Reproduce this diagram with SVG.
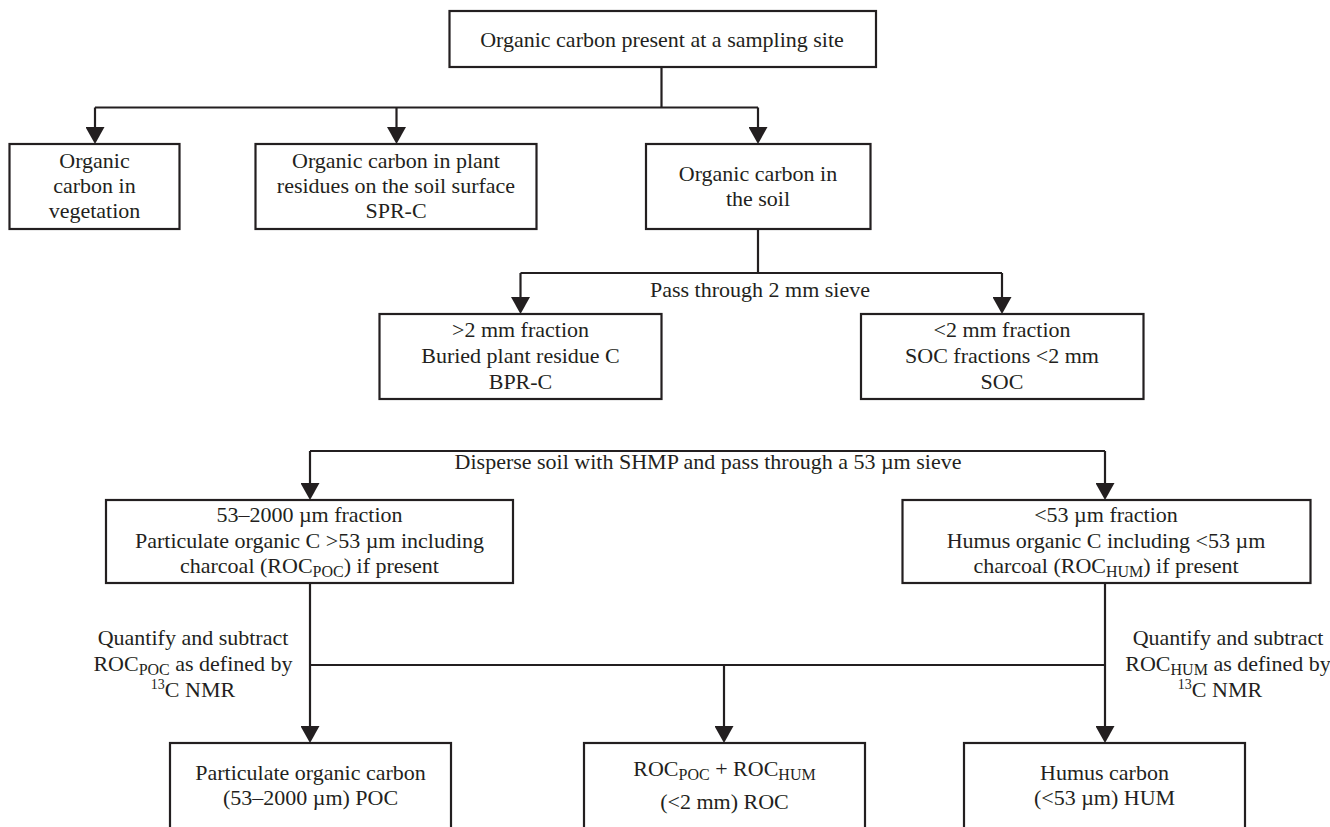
<svg xmlns="http://www.w3.org/2000/svg" width="1330" height="827" viewBox="0 0 1330 827">
<style>
.box{fill:#fff;stroke:#231f20;stroke-width:2.2}
.t{font-family:"Liberation Serif","Times New Roman",serif;font-size:22px;fill:#231f20;text-anchor:middle}
.c{fill:none;stroke:#231f20;stroke-width:2.2}
.arr{marker-end:url(#ah)}
.sub{font-size:16px}
.sup{font-size:14px}
</style>
<defs>
<marker id="ah" viewBox="0 0 17 19" markerWidth="17" markerHeight="19" refX="7" refY="9.5" markerUnits="userSpaceOnUse" orient="auto">
<path d="M0,0 L17,9.5 L0,19 z" fill="#231f20"/>
</marker>
</defs>
<rect width="1330" height="827" fill="#fff"/>

<g id="connectors">
<path class="c" d="M661.5,67 V107.5 M95,107.5 H758"/>
<path class="c arr" d="M95,107.5 V134"/>
<path class="c arr" d="M396.5,107.5 V134"/>
<path class="c arr" d="M758,107.5 V134"/>
<path class="c" d="M758,229 V273 M520.5,273 H1002"/>
<path class="c arr" d="M520.5,273 V304"/>
<path class="c arr" d="M1002,273 V304"/>
<path class="c" d="M310,451 H1105"/>
<path class="c arr" d="M310,451 V490"/>
<path class="c arr" d="M1105,451 V490"/>
<path class="c" d="M310,665 H1105"/>
<path class="c arr" d="M310,583 V733"/>
<path class="c arr" d="M1105,583 V733"/>
<path class="c arr" d="M724,665 V733"/>
<text class="t" x="760" y="297">Pass through 2 mm sieve</text>
<text class="t" x="708" y="469">Disperse soil with SHMP and pass through a 53 µm sieve</text>
<text class="t" x="193" y="645">Quantify and subtract</text>
<text class="t" x="193" y="671">ROC<tspan class="sub" dy="4">POC</tspan><tspan dy="-4"> as defined by</tspan></text>
<text class="t" x="193" y="697"><tspan class="sup" dy="-8">13</tspan><tspan dy="8">C NMR</tspan></text>
<text class="t" x="1228" y="645">Quantify and subtract</text>
<text class="t" x="1228" y="671">ROC<tspan class="sub" dy="4">HUM</tspan><tspan dy="-4"> as defined by</tspan></text>
<text class="t" x="1220" y="697"><tspan class="sup" dy="-8">13</tspan><tspan dy="8">C NMR</tspan></text>
</g>

<g id="n-top">
<rect class="box" x="449.5" y="11" width="426.5" height="56"/>
<text class="t" x="662" y="47">Organic carbon present at a sampling site</text>
</g>

<g id="n-veg">
<rect class="box" x="9.5" y="144" width="170" height="85"/>
<text class="t" x="94.5" y="168">Organic</text>
<text class="t" x="94.5" y="193">carbon in</text>
<text class="t" x="94.5" y="218">vegetation</text>
</g>

<g id="n-spr">
<rect class="box" x="255.5" y="144" width="281" height="85"/>
<text class="t" x="396" y="168">Organic carbon in plant</text>
<text class="t" x="396" y="193">residues on the soil surface</text>
<text class="t" x="396" y="218">SPR-C</text>
</g>

<g id="n-soil">
<rect class="box" x="646" y="144" width="224.5" height="85"/>
<text class="t" x="758" y="180.5">Organic carbon in</text>
<text class="t" x="758" y="205.5">the soil</text>
</g>

<g id="n-bpr">
<rect class="box" x="379.5" y="314" width="282" height="85"/>
<text class="t" x="520.5" y="337">&gt;2 mm fraction</text>
<text class="t" x="520.5" y="363">Buried plant residue C</text>
<text class="t" x="520.5" y="389">BPR-C</text>
</g>

<g id="n-soc">
<rect class="box" x="861" y="314" width="282.5" height="85"/>
<text class="t" x="1002" y="337">&lt;2 mm fraction</text>
<text class="t" x="1002" y="363">SOC fractions &lt;2 mm</text>
<text class="t" x="1002" y="389">SOC</text>
</g>

<g id="n-poc53">
<rect class="box" x="106" y="500" width="407" height="83"/>
<text class="t" x="309.5" y="522">53–2000 µm fraction</text>
<text class="t" x="309.5" y="547.5">Particulate organic C &gt;53 µm including</text>
<text class="t" x="309.5" y="573">charcoal (ROC<tspan class="sub" dy="4">POC</tspan><tspan dy="-4">) if present</tspan></text>
</g>

<g id="n-hum53">
<rect class="box" x="902.5" y="500" width="408" height="83"/>
<text class="t" x="1106" y="522">&lt;53 µm fraction</text>
<text class="t" x="1106" y="547.5">Humus organic C including &lt;53 µm</text>
<text class="t" x="1106" y="573">charcoal (ROC<tspan class="sub" dy="4">HUM</tspan><tspan dy="-4">) if present</tspan></text>
</g>

<g id="n-poc">
<rect class="box" x="170" y="743" width="281" height="120"/>
<text class="t" x="310.5" y="780">Particulate organic carbon</text>
<text class="t" x="310.5" y="805">(53–2000 µm) POC</text>
</g>

<g id="n-roc">
<rect class="box" x="584" y="743" width="281" height="120"/>
<text class="t" x="724.5" y="776">ROC<tspan class="sub" dy="4">POC</tspan><tspan dy="-4"> + ROC</tspan><tspan class="sub" dy="4">HUM</tspan></text>
<text class="t" x="724.5" y="809">(&lt;2 mm) ROC</text>
</g>

<g id="n-hum">
<rect class="box" x="964" y="743" width="281" height="120"/>
<text class="t" x="1104.5" y="780">Humus carbon</text>
<text class="t" x="1104.5" y="805">(&lt;53 µm) HUM</text>
</g>
</svg>
